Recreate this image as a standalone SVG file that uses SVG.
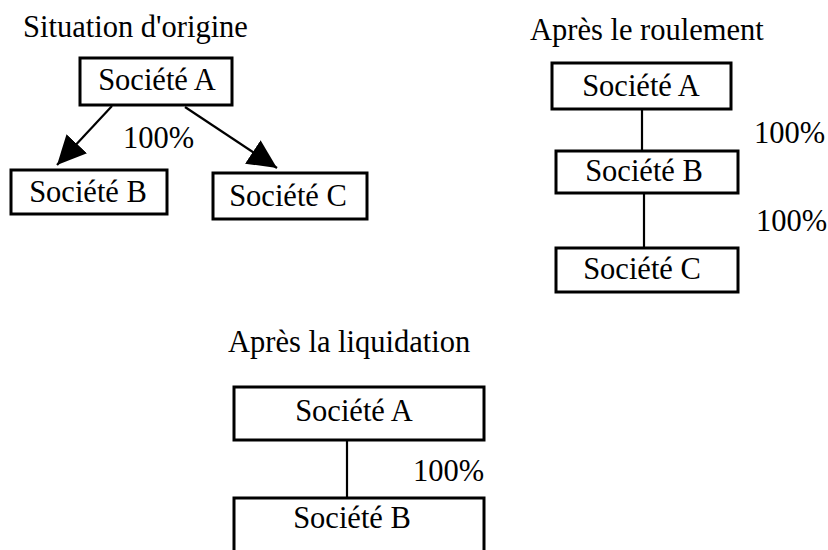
<svg xmlns="http://www.w3.org/2000/svg" width="828" height="550" viewBox="0 0 828 550">
<style>
  text { font-family: "Liberation Serif", "Times New Roman", serif; font-size: 30.5px; fill: #000; }
  .box { fill: #fff; stroke: #000; stroke-width: 3; }
  .lbl { text-anchor: middle; }
  .conn { stroke: #000; stroke-width: 2.2; fill: none; }
</style>
<defs>
  <marker id="arrow" markerUnits="userSpaceOnUse" markerWidth="29" markerHeight="28" viewBox="0 0 29 28" refX="29" refY="14" orient="auto">
    <path d="M0,0 L29,14 L0,28 z" fill="#000"/>
  </marker>
</defs>
<rect width="828" height="550" fill="#fff"/>

<text x="23" y="37">Situation d'origine</text>
<text x="530" y="40">Après le roulement</text>
<text x="228" y="352">Après la liquidation</text>

<g id="connectors">
  <line class="conn" x1="112" y1="106" x2="57" y2="165" marker-end="url(#arrow)"/>
  <line class="conn" x1="185" y1="107" x2="277" y2="168" marker-end="url(#arrow)"/>
  <line class="conn" x1="642" y1="110" x2="642" y2="150"/>
  <line class="conn" x1="644" y1="194" x2="644" y2="247"/>
  <line class="conn" x1="347" y1="441" x2="347" y2="497"/>
  <text x="123" y="148">100%</text>
  <text x="754" y="143">100%</text>
  <text x="756" y="231">100%</text>
  <text x="413" y="481">100%</text>
</g>

<g id="orig-a"><rect class="box" x="80" y="58" width="152" height="47"/><text class="lbl" x="157" y="90">Société A</text></g>
<g id="orig-b"><rect class="box" x="11" y="170" width="156" height="44"/><text class="lbl" x="88" y="202">Société B</text></g>
<g id="orig-c"><rect class="box" x="213" y="173" width="154" height="46"/><text class="lbl" x="288" y="206">Société C</text></g>

<g id="roul-a"><rect class="box" x="552" y="63" width="179" height="46"/><text class="lbl" x="641" y="96">Société A</text></g>
<g id="roul-b"><rect class="box" x="556" y="151" width="182" height="42"/><text class="lbl" x="644" y="181">Société B</text></g>
<g id="roul-c"><rect class="box" x="556" y="248" width="182" height="44"/><text class="lbl" x="642" y="279">Société C</text></g>

<g id="liq-a"><rect class="box" x="234" y="387" width="250" height="53"/><text class="lbl" x="354" y="421">Société A</text></g>
<g id="liq-b"><rect class="box" x="234" y="498" width="250" height="80"/><text class="lbl" x="352" y="528">Société B</text></g>
</svg>
